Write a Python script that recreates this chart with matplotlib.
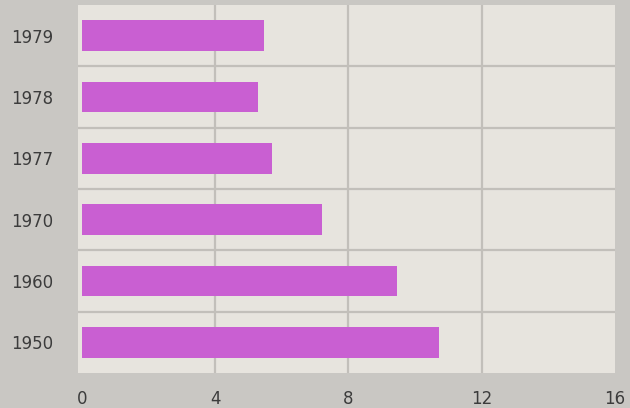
import matplotlib.pyplot as plt
import numpy as np

# ======= Data =======
years = ["1950", "1960", "1970", "1977", "1978", "1979"]
values = [10.72, 9.45, 7.2, 5.7, 5.27, 5.45]
x_ticks = [0, 4, 8, 12, 16]

# ======= Colours =======
bar_color = "#c95fd2"
plot_bg = "#e7e4de"
outer_bg = "#c9c7c3"
grid_color = "#c2bfba"
text_color = "#3c3c3c"

fig = plt.figure(figsize=(6.3, 4.08), dpi=100, facecolor=outer_bg)
ax = fig.add_axes([0.124, 0.086, 0.852, 0.902])
ax.set_facecolor(plot_bg)

y = np.arange(len(years))
ax.barh(y, values, height=0.5, color=bar_color, zorder=3)

ax.set_xlim(-0.12, 16)
ax.set_ylim(-0.5, len(years) - 0.5)

ax.set_xticks(x_ticks)
ax.set_yticks(y)
ax.set_yticklabels(years)

# grid: vertical lines at 4, 8, 12 and separators between rows
for v in x_ticks[1:-1]:
    ax.axvline(v, color=grid_color, linewidth=1.6, zorder=1)
for s in y[:-1] + 0.5:
    ax.axhline(s, color=grid_color, linewidth=1.6, zorder=1)

for sp in ax.spines.values():
    sp.set_visible(False)

ax.tick_params(axis="both", length=0, labelsize=12, labelcolor=text_color)
ax.tick_params(axis="x", pad=12)
ax.tick_params(axis="y", pad=18)

plt.savefig("out.png", dpi=100, facecolor=outer_bg)
